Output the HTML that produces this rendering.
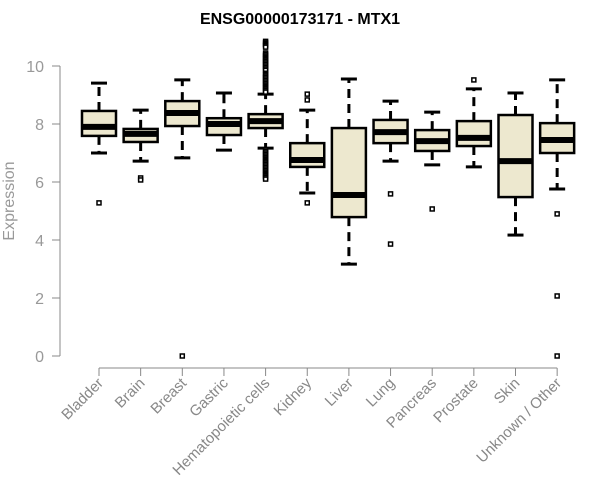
<!DOCTYPE html>
<html><head><meta charset="utf-8">
<style>
html,body{margin:0;padding:0;background:#fff;}
svg{display:block;font-family:"Liberation Sans",Arial,sans-serif;}
</style></head>
<body>
<svg id="chart" width="600" height="500">
<text x="300" y="24" text-anchor="middle" font-size="16" font-weight="bold" fill="#000">ENSG00000173171 - MTX1</text>
<text transform="translate(14,201) rotate(-90)" text-anchor="middle" font-size="16" fill="#999">Expression</text>
<g id="plot"></g>
</svg>
<script>
const categories=["Bladder","Brain","Breast","Gastric","Hematopoietic cells","Kidney","Liver","Lung","Pancreas","Prostate","Skin","Unknown / Other"];
const whiskerLow=[7.0,6.72,6.83,7.1,7.17,5.62,3.17,6.72,6.59,6.52,4.17,5.76];
const q1=[7.59,7.38,7.93,7.62,7.86,6.52,4.79,7.34,7.07,7.24,5.48,7.0];
const medians=[7.9,7.66,8.38,8.0,8.1,6.76,5.55,7.72,7.41,7.52,6.72,7.45];
const q3=[8.45,7.83,8.79,8.2,8.34,7.34,7.86,8.14,7.79,8.1,8.31,8.03];
const whiskerHigh=[9.41,8.48,9.52,9.07,9.03,8.48,9.55,8.79,8.41,9.21,9.07,9.52];
const outliers=[[5.28],[6.14,6.07],[0],[],
[10.85,10.8,10.75,10.7,10.65,10.45,10.4,10.35,10.3,10.25,10.2,10.15,10.1,10.05,10.0,9.95,9.9,9.85,9.75,9.7,9.65,9.6,9.55,9.5,9.45,9.4,9.35,9.3,9.25,9.2,9.15,9.1,7.1,7.05,7.0,6.95,6.9,6.85,6.8,6.75,6.7,6.65,6.6,6.55,6.5,6.45,6.4,6.35,6.3,6.25,6.2,6.15,6.1],
[5.28,9.03,8.83],[],[5.59,3.86],[5.07],[9.52],[],[4.9,2.07,0]];
const yTicks=[0,2,4,6,8,10];

const NS="http://www.w3.org/2000/svg";
const g=document.getElementById('plot');
const y=v=>356-v*29;
const x=i=>99+i*41.65;
function el(t,a){const e=document.createElementNS(NS,t);for(const k in a)e.setAttribute(k,a[k]);g.appendChild(e);return e;}

let ax=el('line',{x1:60,x2:60,y1:y(10),y2:y(0),stroke:'#888','stroke-width':1});


yTicks.forEach(t=>{
  let l=el('line',{x1:52,x2:60,y1:y(t),y2:y(t),stroke:'#888'});
  
  
  let tx=el('text',{x:44,y:y(t)+6,'text-anchor':'end','font-size':16,fill:'#999'});
  tx.textContent=t;
  
  
});
let xa=el('line',{x1:x(0),x2:x(categories.length-1),y1:368,y2:368,stroke:'#888'});



categories.forEach((c,i)=>{
  const cx=x(i),hw=17;
  let tk=el('line',{x1:cx,x2:cx,y1:368,y2:376,stroke:'#888'});
  
  
  let lb=el('text',{transform:`translate(${cx+5},${384}) rotate(-45)`,'text-anchor':'end','font-size':15,fill:'#888'});
  lb.textContent=c;
  
  
  const bg=document.createElementNS(NS,'g');g.appendChild(bg);
  
  
  const add=(t,a)=>{const e=document.createElementNS(NS,t);for(const k in a)e.setAttribute(k,a[k]);bg.appendChild(e);return e;};
  add('line',{x1:cx,x2:cx,y1:y(q3[i]),y2:y(whiskerHigh[i]),stroke:'#000','stroke-width':3,'stroke-dasharray':'9,6'});
  add('line',{x1:cx,x2:cx,y1:y(q1[i]),y2:y(whiskerLow[i]),stroke:'#000','stroke-width':3,'stroke-dasharray':'9,6'});
  add('line',{x1:cx-8,x2:cx+8,y1:y(whiskerHigh[i]),y2:y(whiskerHigh[i]),stroke:'#000','stroke-width':3});
  add('line',{x1:cx-8,x2:cx+8,y1:y(whiskerLow[i]),y2:y(whiskerLow[i]),stroke:'#000','stroke-width':3});
  add('rect',{x:cx-hw,y:y(q3[i]),width:hw*2,height:y(q1[i])-y(q3[i]),fill:'#ede8cf',stroke:'#000','stroke-width':2.5});
  add('line',{x1:cx-hw,x2:cx+hw,y1:y(medians[i]),y2:y(medians[i]),stroke:'#000','stroke-width':6});
  outliers[i].forEach(v=>{
    let o=add('rect',{x:cx-2,y:y(v)-2,width:4,height:4,fill:'#fff',stroke:'#000','stroke-width':1.5});
    
    
  });
});
</script>
</body></html>
